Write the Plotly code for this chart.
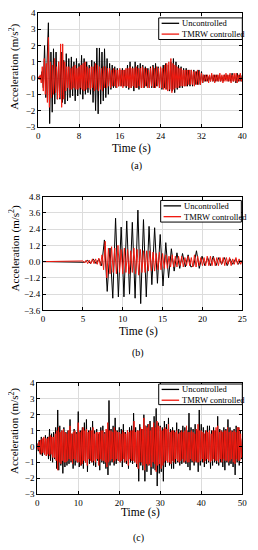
import numpy as np
import plotly.graph_objects as go

# ---------------- data ----------------
# (a) time step 0.25 s uncontrolled, 0.2 s controlled
a_dt_unc = 0.25
a_unc = [
    0.0, 0.1, -0.1, 0.4,
    -0.6, 2.0, -1.2, 1.0,
    3.4, -2.8, 1.6, -2.1,
    1.8, -1.6, 1.6, -1.3,
    1.0, -1.3, 1.6, -1.5,
    1.1, -1.6, 1.5, -1.4,
    1.2, -1.2, 1.3, -1.1,
    1.0, -1.4, 1.2, -1.1,
    0.9, -1.0, 1.4, -1.3,
    1.2, -1.0, 1.0, -0.9,
    0.8, -1.0, 1.1, -1.5,
    1.0, -2.0, 1.85, -2.2,
    1.85, -1.6, 1.6, -1.4,
    1.8, -1.2, 1.2, -1.0,
    0.9, -0.7, 0.8, -0.6,
    0.7, -0.6, 0.6, -0.5,
    0.5, -0.5, 0.6, -0.5,
    0.5, -0.6, 0.8, -0.7,
    1.0, -0.6, 0.7, -0.8,
    1.0, -0.6, 0.8, -0.7,
    0.9, -0.6, 0.8, -0.6,
    0.7, -0.5, 0.6, -0.6,
    0.7, -0.6, 0.8, -0.6,
    0.9, -0.5, 0.7, -0.6,
    0.6, -0.7, 0.8, -0.6,
    0.9, -0.7, 0.8, -0.8,
    1.0, -0.8, 1.2, -0.9,
    1.0, -0.7, 0.8, -0.6,
    0.7, -0.6, 0.6, -0.5,
    0.6, -0.5, 0.5, -0.5,
    0.5, -0.5, 0.5, -0.4,
    0.4, -0.4, 0.5, -0.4,
    0.4, -0.3, 0.2, -0.2,
    0.2, -0.2, 0.1, -0.2,
    0.2, -0.2, 0.2, -0.2,
    0.2, -0.2, 0.2, -0.2,
    0.1, -0.2, 0.2, -0.1,
    0.2, -0.2, 0.2, -0.2,
    0.3, -0.2, 0.2, -0.3,
    0.3, -0.2, 0.2, -0.2,
    0.2,
]
a_dt_ctl = 0.2
a_ctl = [
    0.1, -0.1, 0.2, -0.3, 0.7,
    -0.8, 1.2, -1.0, 0.9, -1.5,
    2.5, -1.8, 1.0, -1.2, 0.8,
    -1.0, 1.2, -0.9, 0.7, -1.3,
    1.0, -1.2, 2.1, -1.8, 2.1,
    -1.3, 1.0, -0.8, 0.7, -0.6,
    0.7, -0.7, 0.6, -0.7, 0.7,
    -0.6, 0.8, -0.7, 0.6, -0.7,
    0.7, -0.6, 0.8, -0.7, 0.9,
    -0.8, 1.0, -0.7, 0.7, -0.6,
    0.6, -0.7, 0.7, -0.6, 0.7,
    -0.8, 0.9, -0.7, 0.8, -0.8,
    0.7, -0.7, 0.6, -0.8, 0.7,
    -0.6, 0.7, -0.6, 0.6, -0.5,
    0.6, -0.6, 0.5, -0.5, 0.6,
    -0.5, 0.5, -0.6, 0.5, -0.5,
    0.6, -0.5, 0.5, -0.6, 0.5,
    -0.5, 0.6, -0.5, 0.6, -0.6,
    0.7, -0.6, 0.6, -0.5, 0.6,
    -0.6, 0.7, -0.6, 0.6, -0.5,
    0.6, -0.6, 0.7, -0.6, 0.6,
    -0.5, 0.6, -0.6, 0.5, -0.6,
    0.6, -0.5, 0.7, -0.6, 0.6,
    -0.6, 0.7, -0.5, 0.6, -0.6,
    0.7, -0.6, 0.6, -0.7, 0.8,
    -0.7, 0.9, -0.8, 1.0, -0.7,
    1.2, -0.9, 0.9, -0.7, 0.8,
    -0.6, 0.7, -0.6, 0.6, -0.5,
    0.6, -0.5, 0.5, -0.5, 0.5,
    -0.5, 0.5, -0.4, 0.5, -0.4,
    0.5, -0.4, 0.4, -0.5, 0.4,
    -0.4, 0.5, -0.4, 0.4, -0.4,
    0.3, -0.3, 0.2, -0.2, 0.2,
    -0.2, 0.2, -0.3, 0.2, -0.2,
    0.3, -0.2, 0.2, -0.3, 0.2,
    -0.2, 0.2, -0.2, 0.3, -0.2,
    0.2, -0.3, 0.2, -0.2, 0.3,
    -0.2, 0.2, -0.2, 0.3, -0.3,
    0.2, -0.2, 0.3, -0.2, 0.3,
    -0.3, 0.2, -0.2, 0.3, -0.2,
    0.1,
]

# (b) uncontrolled extremes every 0.35 s, controlled every 0.2 s
b_dt_unc = 0.35
b_unc = [
    0.0, 0.0, 0.0, 0.0, 0.0, 0.0, 0.0, 0.0, 0.0, 0.0, 0.0, 0.0, 0.0, 0.0, 0.0,
    -0.05, 0.1, -0.15, 0.2, -0.15, 0.2, -0.3,
    1.6, -2.2, 1.0, -2.7, 3.2, -2.6, 2.55, -2.6, 3.0, -2.4,
    2.9, -2.7, 3.8, -3.1, 3.1, -2.6, 2.6, -1.7, 2.5, -1.6,
    2.0, -1.8, 1.4, -1.2, 0.95, -0.7, 0.65, -0.5, 0.6, -0.4,
    0.5, -0.4, -0.3, 0.8, -0.5, 0.4, -0.3, 0.3, -0.3, 0.4,
    -0.3, 0.3, -0.2, 0.3, -0.3, 0.2, -0.2, 0.2, -0.2, 0.1,
]
b_dt_ctl = 0.2
b_ctl = [
    0.0, 0.0, 0.0, 0.0, 0.0,
    0.0, 0.0, 0.0, 0.0, 0.0,
    0.0, 0.0, 0.0, 0.0, 0.0,
    0.0, 0.0, 0.0, 0.0, 0.0,
    0.0, 0.0, 0.0, 0.0, 0.0,
    0.05, -0.1, 0.1, -0.15, 0.1,
    -0.15, 0.2, -0.15, 0.2, -0.2,
    0.25, -0.3, 0.5, -0.6, 1.5,
    -1.2, 1.0, -0.9, 1.1, -0.8,
    1.0, -0.9, 1.2, -0.8, 0.9,
    -0.9, 1.0, -0.8, 0.9, -0.9,
    0.8, -0.8, 1.0, -0.9, 0.9,
    -1.0, 0.9, -0.8, 0.8, -0.8,
    0.8, -0.7, 0.8, -0.7, 0.7,
    -0.7, 0.6, -0.6, 0.7, -0.6,
    0.6, -0.5, 0.5, -0.5, 0.4,
    -0.4, 0.5, -0.4, 0.4, -0.4,
    0.4, -0.3, 0.4, -0.4, 0.3,
    -0.3, 0.4, -0.3, 0.3, -0.4,
    0.5, -0.4, 0.4, -0.3, 0.3,
    -0.3, 0.3, -0.3, 0.4, -0.3,
    0.4, -0.3, 0.3, -0.3, 0.3,
    -0.3, 0.3, -0.2, 0.3, -0.3,
    0.3, -0.2, 0.3, -0.3, 0.2,
    -0.2, 0.3, -0.2, 0.2, -0.2,
    0.1,
]

# (c) uncontrolled every 0.25 s, controlled every 0.2 s
c_dt_unc = 0.25
c_unc = [
    0.2, -0.3, 0.4, -0.5,
    0.6, -0.6, 0.5, -0.5,
    0.7, -0.6, 0.6, -0.8,
    1.1, -0.9, 0.8, -1.0,
    0.9, -0.8, 1.2, -1.4,
    2.3, -1.5, 1.3, -1.2,
    1.0, -1.7, 1.2, -1.3,
    0.9, -1.2, 1.0, -1.1,
    1.7, -1.0, 0.8, -1.4,
    1.1, -1.2, 0.9, -1.0,
    2.2, -1.3, 1.0, -1.2,
    1.2, -1.4, 1.5, -1.0,
    1.7, -1.6, 1.0, -1.1,
    1.2, -1.0, 1.6, -1.2,
    1.0, -1.3, 1.1, -0.9,
    0.8, -1.5, 1.2, -1.0,
    1.3, -1.1, 0.9, -1.4,
    1.0, -1.8, 2.9, -1.2,
    1.1, -1.0, 1.3, -1.2,
    1.8, -1.1, 1.0, -0.9,
    1.2, -1.0, 1.1, -1.3,
    1.4, -1.0, 0.9, -1.1,
    1.0, -1.4, 1.2, -1.0,
    1.3, -1.1, 2.1, -1.0,
    1.2, -1.3, 1.0, -2.2,
    1.4, -1.2, 1.1, -1.5,
    2.0, -2.2, 1.3, -1.6,
    1.4, -1.2, 1.6, -1.8,
    1.2, -1.4, 1.9, -1.5,
    2.4, -2.5, 1.5, -1.7,
    1.3, -1.6, 1.2, -2.2,
    1.6, -1.3, 1.4, -1.0,
    1.8, -1.2, 1.1, -1.4,
    1.2, -1.4, 1.0, -1.1,
    1.5, -1.0, 1.1, -1.2,
    1.0, -1.1, 1.3, -1.0,
    1.2, -1.1, 1.0, -1.3,
    2.1, -1.5, 1.2, -1.0,
    1.1, -1.2, 1.4, -1.0,
    1.0, -1.6, 2.3, -1.2,
    1.4, -1.0, 1.2, -1.3,
    1.0, -1.1, 1.3, -1.0,
    1.3, -1.4, 1.0, -1.2,
    1.2, -1.0, 1.0, -1.1,
    1.9, -1.2, 1.1, -1.0,
    1.0, -1.3, 1.2, -1.5,
    1.1, -1.0, 1.7, -1.2,
    1.2, -1.1, 1.0, -1.3,
    1.1, -1.8, 1.3, -1.0,
    1.2, -1.2, 1.0, -0.8,
    0.5,
]
c_dt_ctl = 0.2
c_ctl = [
    0.1, -0.2, 0.3, -0.4, 0.4,
    -0.5, 0.5, -0.4, 0.6, -0.5,
    0.5, -0.6, 0.5, -0.5, 0.6,
    -0.6, 0.7, -0.5, 0.6, -0.7,
    0.6, -0.7, 0.8, -0.9, 1.0,
    -1.5, 1.2, -1.0, 0.9, -1.1,
    1.0, -0.9, 1.1, -1.0, 0.9,
    -1.0, 0.8, -0.9, 1.0, -0.8,
    1.3, -0.9, 0.8, -1.1, 0.9,
    -0.8, 1.0, -0.9, 0.8, -1.0,
    1.5, -1.0, 0.9, -1.2, 1.0,
    -1.1, 1.2, -0.9, 1.0, -1.0,
    1.1, -1.2, 0.9, -0.8, 1.0,
    -0.9, 1.0, -1.0, 1.2, -0.9,
    0.8, -1.0, 0.9, -0.8, 0.9,
    -1.2, 0.9, -0.8, 1.0, -0.9,
    1.0, -0.9, 0.8, -1.0, 1.1,
    -1.3, 1.5, -1.0, 1.0, -0.9,
    1.0, -0.8, 0.9, -1.0, 1.2,
    -0.9, 1.0, -0.8, 0.9, -0.9,
    0.9, -1.0, 0.8, -0.9, 1.0,
    -0.8, 0.9, -1.0, 0.8, -0.9,
    1.0, -1.2, 0.9, -0.8, 1.0,
    -0.9, 1.0, -0.9, 1.6, -1.0,
    0.9, -1.1, 1.0, -1.4, 1.0,
    -1.0, 1.2, -1.0, 1.1, -1.2,
    1.8, -1.5, 1.3, -1.1, 1.2,
    -1.2, 1.4, -1.1, 1.0, -1.3,
    1.2, -1.0, 1.5, -1.1, 1.2,
    -1.6, 1.6, -1.2, 1.3, -1.1,
    1.2, -1.4, 1.0, -1.2, 1.1,
    -1.0, 1.2, -0.9, 1.1, -1.0,
    1.4, -1.0, 0.9, -1.1, 1.0,
    -0.9, 1.0, -1.0, 0.9, -0.8,
    1.0, -0.9, 0.8, -1.0, 0.9,
    -0.9, 1.0, -0.8, 0.9, -1.0,
    1.0, -0.9, 1.3, -1.0, 0.9,
    -1.0, 0.9, -0.8, 1.0, -0.9,
    0.9, -1.0, 0.8, -0.9, 1.1,
    -1.0, 1.4, -1.0, 1.0, -0.9,
    1.0, -0.8, 0.9, -1.0, 0.8,
    -0.9, 1.0, -0.8, 0.9, -0.9,
    1.0, -1.0, 0.8, -0.9, 1.0,
    -0.8, 1.0, -0.9, 1.2, -0.9,
    1.3, -1.0, 0.9, -0.8, 1.0,
    -1.0, 0.9, -0.8, 1.0, -0.9,
    1.0, -0.9, 1.2, -1.0, 0.9,
    -0.9, 1.0, -0.8, 0.9, -1.0,
    1.0, -1.1, 0.9, -0.8, 1.2,
    -0.9, 1.2, -0.9, 0.8, -0.7,
    0.4,
]

series_names = ["Uncontrolled", "TMRW controlled"]
panel_labels = ["(a)", "(b)", "(c)"]
x_ranges = [[0, 40], [0, 25], [0, 50]]
x_dticks = [8, 5, 10]
y_ranges = [[-3, 4], [-3.6, 4.8], [-3, 4]]
y_dticks = [1, 1.2, 1]
y_formats = ["", ".1f", ""]

# ---------------- figure ----------------
# the page body has an 8 px margin, so the figure is drawn 8 px in from the window edge
OFF = 8
W, H = 258 - OFF, 550 - OFF
FONT = "Liberation Serif"
BLACK = "#000000"
RED = "#f01a10"

def px(x):
    return min(1.0, max(0.0, (x - OFF) / W))

def py(y):
    return min(1.0, max(0.0, 1 - (y - OFF) / H))

# plot areas in window pixels: (left, right, top, bottom)
areas = [(37, 247, 8, 124), (42, 247, 195, 311), (36, 247, 385, 498)]
ytitle_pos = [(13, 63), (13, 248), (12, 434)]
xtitle_pos = [(133, 146), (140, 332), (142, 517)]
label_pos = [(138, 164), (140, 354), (140, 543)]
legend_boxes = [(161, 247, 13, 35), (163, 246, 199, 221), (161, 247, 386, 407)]

panels = [
    (a_unc, a_dt_unc, a_ctl, a_dt_ctl),
    (b_unc, b_dt_unc, b_ctl, b_dt_ctl),
    (c_unc, c_dt_unc, c_ctl, c_dt_ctl),
]

fig = go.Figure()
annotations = []
shapes = []

for i, (unc, dtu, ctl, dtc) in enumerate(panels):
    xa = "x" if i == 0 else f"x{i+1}"
    ya = "y" if i == 0 else f"y{i+1}"
    tu = np.arange(len(unc)) * dtu
    tc = np.arange(len(ctl)) * dtc
    fig.add_trace(go.Scatter(x=tu, y=unc, mode="lines", name=series_names[0],
                             line=dict(color=BLACK, width=1), xaxis=xa, yaxis=ya,
                             showlegend=False))
    fig.add_trace(go.Scatter(x=tc, y=ctl, mode="lines", name=series_names[1],
                             line=dict(color=RED, width=1), xaxis=xa, yaxis=ya,
                             showlegend=False))
    l, r, t, b = areas[i]
    axkey = "xaxis" if i == 0 else f"xaxis{i+1}"
    aykey = "yaxis" if i == 0 else f"yaxis{i+1}"
    common = dict(showline=True, linecolor=BLACK, linewidth=1, mirror="ticks",
                  ticks="inside", ticklen=3, tickwidth=1, tickcolor=BLACK,
                  showgrid=True, gridcolor="#dcdcdc", gridwidth=0.6,
                  zeroline=False, tickfont=dict(family=FONT, size=9, color=BLACK))
    fig.update_layout(**{
        axkey: dict(domain=[px(l), px(r)], range=x_ranges[i], dtick=x_dticks[i],
                    tick0=0, anchor=ya, **common),
        aykey: dict(domain=[py(b), py(t)], range=y_ranges[i], dtick=y_dticks[i],
                    tick0=0, anchor=xa, tickformat=y_formats[i], **common),
    })
    # axis titles and panel labels
    annotations.append(dict(x=px(ytitle_pos[i][0]), y=py(ytitle_pos[i][1]), xref="paper", yref="paper",
                            text="Acceleration (m/s<sup>2</sup>)", textangle=-90, showarrow=False,
                            xanchor="center", yanchor="middle",
                            font=dict(family=FONT, size=11, color=BLACK)))
    annotations.append(dict(x=px(xtitle_pos[i][0]), y=py(xtitle_pos[i][1]), xref="paper", yref="paper",
                            text="Time (s)", showarrow=False, xanchor="center", yanchor="middle",
                            font=dict(family=FONT, size=11.5, color=BLACK)))
    annotations.append(dict(x=px(label_pos[i][0]), y=py(label_pos[i][1]), xref="paper", yref="paper",
                            text=panel_labels[i], showarrow=False, xanchor="center", yanchor="middle",
                            font=dict(family=FONT, size=10, color=BLACK)))
    # legend box
    bl, br, bt, bb = legend_boxes[i]
    shapes.append(dict(type="rect", xref="paper", yref="paper",
                       x0=px(bl), x1=px(br), y0=py(bb), y1=py(bt),
                       line=dict(color=BLACK, width=1), fillcolor="white"))
    for k, col in enumerate([BLACK, RED]):
        yy = bt + 5.5 + k * 11
        shapes.append(dict(type="line", xref="paper", yref="paper",
                           x0=px(bl + 3), x1=px(bl + 21), y0=py(yy), y1=py(yy),
                           line=dict(color=col, width=1.3)))
        annotations.append(dict(x=px(bl + 22), y=py(yy), xref="paper", yref="paper",
                                text=series_names[k], showarrow=False, xanchor="left",
                                yanchor="middle",
                                font=dict(family=FONT, size=8.5, color=BLACK)))

fig.update_layout(width=W, height=H, margin=dict(l=0, r=0, t=0, b=0),
                  paper_bgcolor="white", plot_bgcolor="white",
                  annotations=annotations, shapes=shapes, showlegend=False)

fig.write_html("out.html")
